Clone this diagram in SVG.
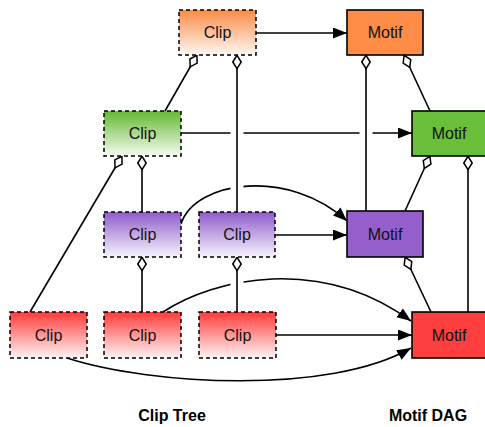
<svg xmlns="http://www.w3.org/2000/svg" width="485" height="427" viewBox="0 0 485 427">
<style>
.clip{stroke:#000;stroke-width:1.5;stroke-dasharray:4 3}
.motif{stroke:#000;stroke-width:1.6}
.lbl{font-family:"Liberation Sans",Arial,sans-serif;font-size:16px;text-anchor:middle;fill:#111}
.title{font-family:"Liberation Sans",Arial,sans-serif;font-size:16px;font-weight:bold;text-anchor:middle;fill:#000}
.c{fill:none;stroke:#000;stroke-width:1.6}
.arr{marker-end:url(#arrow)}
.agg{marker-end:url(#diamond)}
.halo{fill:none;stroke:#fff;stroke-width:13}
</style>
<defs>
<linearGradient id="gO" x1="0" y1="0" x2="0" y2="1"><stop offset="0" stop-color="#f98b45"/><stop offset="1" stop-color="#fff8f4"/></linearGradient>
<linearGradient id="gG" x1="0" y1="0" x2="0" y2="1"><stop offset="0" stop-color="#64b832"/><stop offset="1" stop-color="#f5fbf2"/></linearGradient>
<linearGradient id="gP" x1="0" y1="0" x2="0" y2="1"><stop offset="0" stop-color="#8f5ccb"/><stop offset="1" stop-color="#f6f3fc"/></linearGradient>
<linearGradient id="gR" x1="0" y1="0" x2="0" y2="1"><stop offset="0" stop-color="#ff3a3a"/><stop offset="1" stop-color="#fff4f4"/></linearGradient>
<marker id="arrow" markerUnits="userSpaceOnUse" markerWidth="15" markerHeight="12" refX="14" refY="5.5" orient="auto"><path d="M0,0 L14,5.5 L0,11 z" fill="#000"/></marker>
<marker id="diamond" markerUnits="userSpaceOnUse" markerWidth="16" markerHeight="11" refX="14.5" refY="5" orient="auto"><path d="M0.8,5 L7.5,0.8 L14.2,5 L7.5,9.2 z" fill="#fff" stroke="#000" stroke-width="1.5"/></marker>
</defs>
<g id="connectors">
<path class="c arr" d="M256,33 H347"/>
<path class="c arr" d="M181,133 H412"/>
<path class="c arr" d="M181,224 C195,180 290,168 347,221"/>
<path class="c arr" d="M275,235 H347"/>
<path class="c arr" d="M163,312 C215,278 320,255 411,321"/>
<path class="c arr" d="M276,335 H412"/>
<path class="c arr" d="M67,358 C150,385 330,395 411,348"/>
<path class="c agg" d="M165,111 L197,55"/>
<path class="c agg" d="M430,111 L404,55"/>
<path class="c agg" d="M30,312 L122,156"/>
<path class="c agg" d="M405,211 L430,156"/>
<path class="c agg" d="M431,312 L405,257"/>
<path class="c agg" d="M142,212 V156"/>
<path class="c agg" d="M142,312 V257"/>
<path class="c agg" d="M468,312 V156"/>
<path class="halo" d="M237,72 V206"/>
<path class="halo" d="M366,72 V205"/>
<path class="halo" d="M237,273 V306"/>
<path class="c agg" d="M237,212 V55"/>
<path class="c agg" d="M366,211 V55"/>
<path class="c agg" d="M237,312 V257"/>
</g>
<g id="clip-orange"><rect class="clip" x="179" y="10" width="77" height="45" fill="url(#gO)"/><text class="lbl" x="217.5" y="38">Clip</text></g>
<g id="motif-orange"><rect class="motif" x="347" y="10" width="76" height="45" fill="#fd8c47"/><text class="lbl" x="385" y="38">Motif</text></g>
<g id="clip-green"><rect class="clip" x="104" y="111" width="77" height="45" fill="url(#gG)"/><text class="lbl" x="142.5" y="139">Clip</text></g>
<g id="motif-green"><rect class="motif" x="412" y="111" width="76" height="45" fill="#69be3a"/><text class="lbl" x="449" y="139">Motif</text></g>
<g id="clip-purple-1"><rect class="clip" x="104" y="212" width="77" height="45" fill="url(#gP)"/><text class="lbl" x="142.5" y="240">Clip</text></g>
<g id="clip-purple-2"><rect class="clip" x="199" y="212" width="76" height="45" fill="url(#gP)"/><text class="lbl" x="237" y="240">Clip</text></g>
<g id="motif-purple"><rect class="motif" x="347" y="211" width="76" height="46" fill="#945fcc"/><text class="lbl" x="385" y="239.5">Motif</text></g>
<g id="clip-red-1"><rect class="clip" x="10" y="312" width="77" height="46" fill="url(#gR)"/><text class="lbl" x="48.5" y="340.5">Clip</text></g>
<g id="clip-red-2"><rect class="clip" x="104" y="312" width="77" height="46" fill="url(#gR)"/><text class="lbl" x="142.5" y="340.5">Clip</text></g>
<g id="clip-red-3"><rect class="clip" x="199" y="312" width="77" height="46" fill="url(#gR)"/><text class="lbl" x="237.5" y="340.5">Clip</text></g>
<g id="motif-red"><rect class="motif" x="412" y="312" width="76" height="46" fill="#fd3f3f"/><text class="lbl" x="449" y="340.5">Motif</text></g>
<text class="title" x="172" y="421">Clip Tree</text>
<text class="title" x="428" y="421">Motif DAG</text>
</svg>
